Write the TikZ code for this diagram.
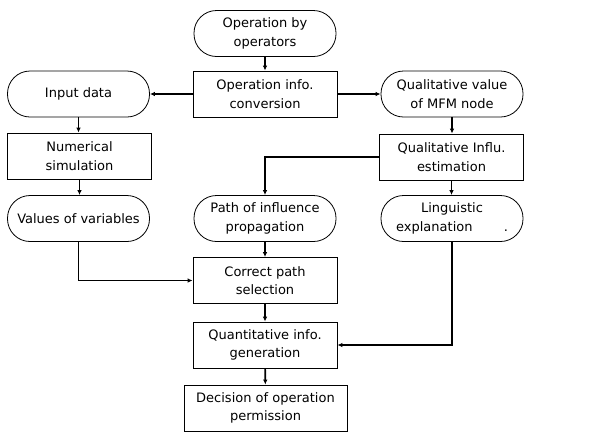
\documentclass[tikz,border=0pt]{standalone}
\usepackage{fontspec}
\setmainfont{DejaVu Sans}
\usetikzlibrary{arrows.meta}

\begin{document}
\begin{tikzpicture}[x=1pt, y=-1pt]
    % Define box sizes
    \def\boxW{144}
    \def\boxH{46}

    \tikzset{
        procbox/.style={draw, line width=0.8pt, minimum width=\boxW pt, minimum height=\boxH pt,
            align=center, inner sep=2pt, font=\fontsize{13}{18.5}\selectfont},
        termbox/.style={procbox, rounded corners=22.5pt, minimum width=142pt},
        flow/.style={line width=1.6pt, -{Latex[length=5pt, width=4.5pt]}}
    }

    \useasboundingbox (0,0) rectangle (609,432);

    % Top and middle column
    \node[termbox] (oper) at (265,33.5) {Operation by\\operators};
    \node[procbox] (conv) at (265,94) {Operation info.\\conversion};
    \node[termbox] (path) at (265,218.5) {Path of influence\\propagation};
    \node[procbox] (select) at (265,280.5) {Correct path\\selection};
    \node[procbox] (quant) at (265,345) {Quantitative info.\\generation};
    \node[procbox, minimum width=163pt] (decide) at (265.5,408) {Decision of operation\\permission};

    % Left column
    \node[termbox] (input) at (78.5,94) {Input data};
    \node[procbox] (numsim) at (79.5,156) {Numerical\\simulation};
    \node[termbox] (values) at (78.5,218.5) {Values of variables};

    % Right column
    \node[termbox] (qualval) at (452,94) {Qualitative value\\of MFM node};
    \node[procbox] (qualinf) at (451.5,157) {Qualitative Influ.\\estimation};
    \node[termbox] (ling) at (452,218.5) {Linguistic\\explanation\hspace{2.4em}.};

    % Draw connectors
    \draw[flow] (oper) -- (conv);
    \draw[flow] (conv) -- (input);
    \draw[flow] (conv) -- (qualval);
    \draw[flow] (input) -- (input |- numsim.north);
    \draw[flow] (numsim) -- (numsim |- values.north);
    \draw[flow] (qualval) -- (qualval |- qualinf.north);
    \draw[flow] (qualinf) -- (qualinf |- ling.north);
    \draw[flow] (qualinf.west) -| (path.north);
    \draw[flow] (values.south) |- (select.west);
    \draw[flow] (path) -- (select);
    \draw[flow] (select) -- (quant);
    \draw[flow] (ling.south) |- (quant.east);
    \draw[flow] (quant) -- (decide);

\end{tikzpicture}
\end{document}
